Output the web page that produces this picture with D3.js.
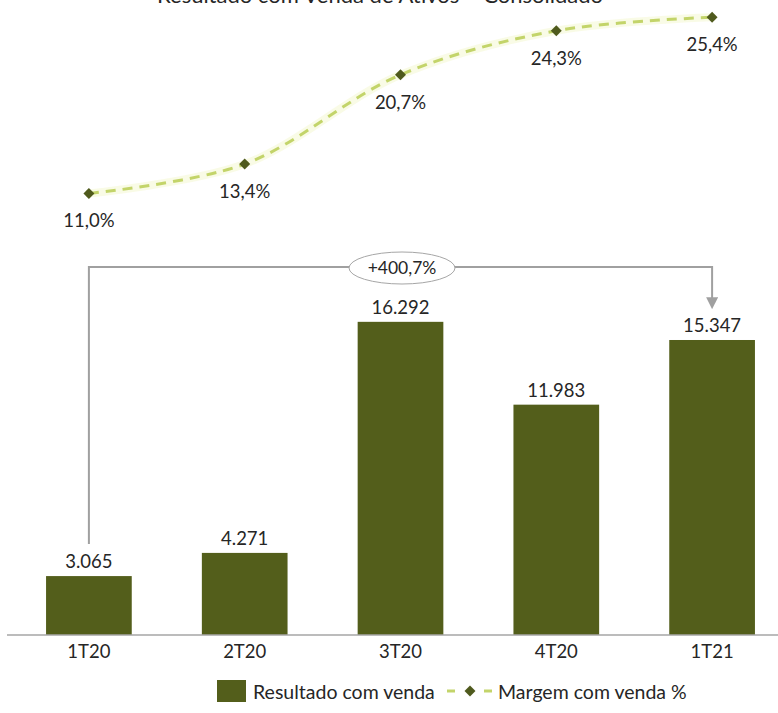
<!DOCTYPE html>
<html>
<head>
<meta charset="utf-8">
<script src="https://cdn.jsdelivr.net/npm/d3@7"></script>
<style>
  body { margin: 0; background: #fff; }
  text { font-family: Lato, "Open Sans", sans-serif; fill: #262626; }
</style>
</head>
<body>
<div id="chart"></div>
<script>
// Data
const quarters = ["1T20", "2T20", "3T20", "4T20", "1T21"];
const resultado = [3065, 4271, 16292, 11983, 15347];
const margem = [11.0, 13.4, 20.7, 24.3, 25.4];
const resultadoLabels = ["3.065", "4.271", "16.292", "11.983", "15.347"];
const margemLabels = ["11,0%", "13,4%", "20,7%", "24,3%", "25,4%"];
const variacaoLabel = "+400,7%";

const width = 778, height = 713;
const barColor = "#535e1b";
const lineColor = "#c3d46a";
const markerColor = "#4f5a1d";

const svg = d3.select("#chart").append("svg")
    .attr("width", width)
    .attr("height", height);

// Scales
const x = d3.scaleBand()
    .domain(quarters)
    .range([11, 790])
    .paddingInner(0.45)
    .paddingOuter(0.225);

const yBar = d3.scaleLinear().domain([0, 18000]).range([635, 289]);
const yPct = d3.scaleLinear().domain([0, 30]).range([328, -39]);

const cx = d => x(d) + x.bandwidth() / 2;

// Title (cut off at the top, as in the original picture)
svg.append("text")
    .attr("x", 380)
    .attr("y", 3)
    .attr("text-anchor", "middle")
    .attr("font-size", 22)
    .text("Resultado com Venda de Ativos – Consolidado");

// Bars
svg.append("g")
    .selectAll("rect")
    .data(quarters)
    .enter().append("rect")
    .attr("x", d => x(d))
    .attr("y", (d, i) => yBar(resultado[i]))
    .attr("width", x.bandwidth())
    .attr("height", (d, i) => yBar(0) - yBar(resultado[i]))
    .attr("fill", barColor);

// Bar labels
svg.append("g")
    .selectAll("text")
    .data(quarters)
    .enter().append("text")
    .attr("x", d => cx(d))
    .attr("y", (d, i) => yBar(resultado[i]) - 8)
    .attr("text-anchor", "middle")
    .attr("font-size", 18.5)
    .text((d, i) => resultadoLabels[i]);

// X axis
const xAxis = svg.append("g")
    .attr("transform", `translate(0,${yBar(0)})`)
    .call(d3.axisBottom(x).tickSize(0).tickPadding(10));
xAxis.select(".domain").remove();
xAxis.append("line")
    .attr("x1", 7).attr("x2", width)
    .attr("stroke", "#a6a6a6")
    .attr("stroke-width", 1.5);
xAxis.selectAll(".tick text")
    .attr("font-size", 18.5)
    .attr("font-family", "Lato, 'Open Sans', sans-serif")
    .attr("fill", "#262626");

// Bracket showing growth 1T20 -> 1T21
const first = quarters[0], last = quarters[quarters.length - 1];
const bracketY = 267;
svg.append("defs").append("marker")
    .attr("id", "arrow")
    .attr("viewBox", "0 0 10 10")
    .attr("refX", 4).attr("refY", 5)
    .attr("markerWidth", 6).attr("markerHeight", 6)
    .attr("orient", "auto")
    .append("path")
    .attr("d", "M0,0 L10,5 L0,10 z")
    .attr("fill", "#a0a0a0");

svg.append("path")
    .attr("d", `M${cx(first)},${yBar(resultado[0]) - 32} V${bracketY} H${cx(last)} V${yBar(resultado[4]) - 38}`)
    .attr("fill", "none")
    .attr("stroke", "#a0a0a0")
    .attr("stroke-width", 2)
    .attr("marker-end", "url(#arrow)");

svg.append("ellipse")
    .attr("cx", 402).attr("cy", bracketY + 1)
    .attr("rx", 53).attr("ry", 16)
    .attr("fill", "#fff")
    .attr("stroke", "#a6a6a6")
    .attr("stroke-width", 1);

svg.append("text")
    .attr("x", 402).attr("y", bracketY + 7)
    .attr("text-anchor", "middle")
    .attr("font-size", 17.5)
    .text(variacaoLabel);

// Margin line (smoothed, dashed, with a faint glow)
const line = d3.line()
    .x((d, i) => cx(quarters[i]))
    .y(d => yPct(d))
    .curve(d3.curveCatmullRom.alpha(0.5));

svg.append("path")
    .datum(margem)
    .attr("d", line)
    .attr("fill", "none")
    .attr("stroke", "#f6f9dc")
    .attr("stroke-width", 8)
    .attr("stroke-linecap", "round")
    .attr("opacity", 0.7);

svg.append("path")
    .datum(margem)
    .attr("d", line)
    .attr("fill", "none")
    .attr("stroke", lineColor)
    .attr("stroke-width", 3)
    .attr("stroke-dasharray", "10,7");

// Diamond markers: rotated squares
const diamond = d3.symbol().type(d3.symbolSquare).size(60);
svg.append("g")
    .selectAll("path")
    .data(margem)
    .enter().append("path")
    .attr("d", diamond)
    .attr("transform", (d, i) => `translate(${cx(quarters[i])},${yPct(d)}) rotate(45)`)
    .attr("fill", markerColor);

svg.append("g")
    .selectAll("text")
    .data(margem)
    .enter().append("text")
    .attr("x", (d, i) => cx(quarters[i]))
    .attr("y", d => yPct(d) + 34)
    .attr("text-anchor", "middle")
    .attr("font-size", 18.5)
    .text((d, i) => margemLabels[i]);

// Legend
const legend = svg.append("g");
legend.append("rect")
    .attr("x", 217).attr("y", 680)
    .attr("width", 29).attr("height", 22)
    .attr("fill", barColor);
legend.append("text")
    .attr("x", 253).attr("y", 699)
    .attr("font-size", 19.5)
    .text("Resultado com venda");
[[447, 455], [484, 492]].forEach(seg => {
    legend.append("line")
        .attr("x1", seg[0]).attr("x2", seg[1])
        .attr("y1", 691).attr("y2", 691)
        .attr("stroke", lineColor)
        .attr("stroke-width", 3);
});
legend.append("path")
    .attr("d", diamond)
    .attr("transform", "translate(470,691) rotate(45)")
    .attr("fill", markerColor);
legend.append("text")
    .attr("x", 498).attr("y", 699)
    .attr("font-size", 19.5)
    .text("Margem com venda %");
</script>
</body>
</html>
